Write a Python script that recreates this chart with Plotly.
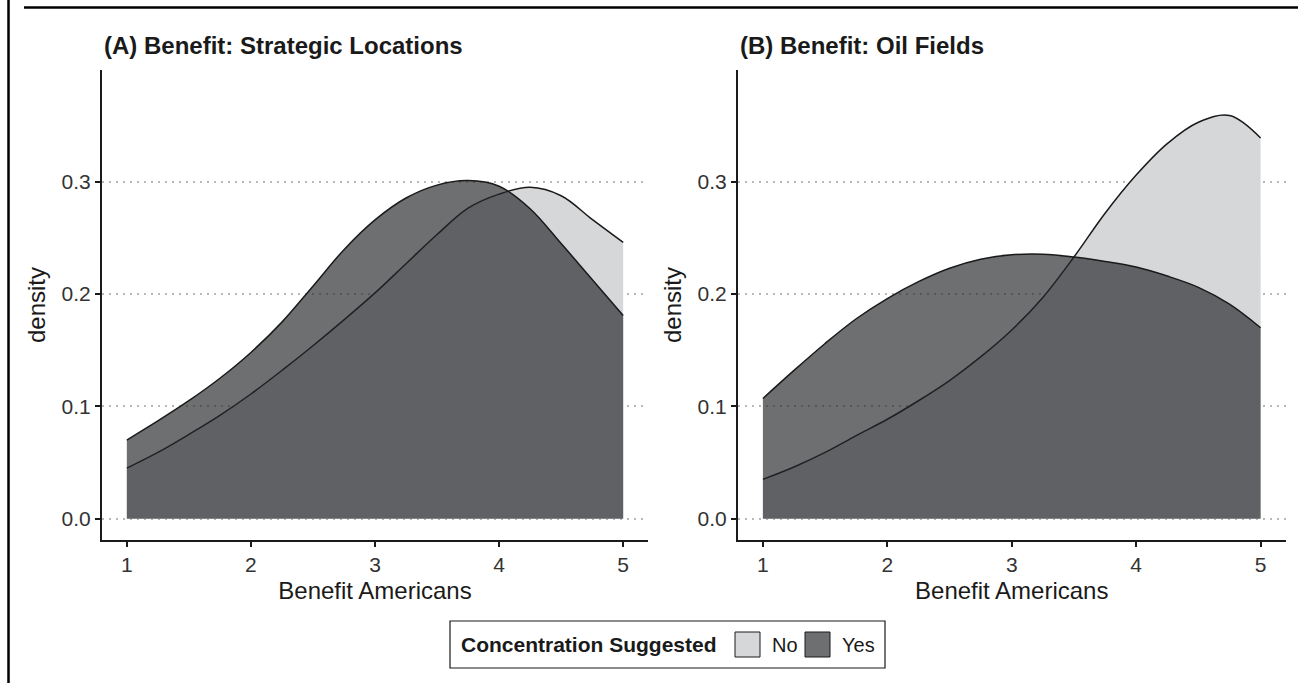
import plotly.graph_objects as go

W, H = 1298, 683

# ---- data ----
x_vals = [1.00, 1.25, 1.50, 1.75, 2.00, 2.25, 2.50, 2.75, 3.00,
          3.25, 3.50, 3.75, 4.00, 4.25, 4.50, 4.75, 5.00]

a_no = [0.045, 0.059, 0.075, 0.092, 0.111, 0.132, 0.154, 0.177, 0.201,
        0.227, 0.253, 0.2765, 0.289, 0.295, 0.2875, 0.2665, 0.246]
a_yes = [0.070, 0.087, 0.105, 0.125, 0.148, 0.175, 0.207, 0.2395, 0.266,
         0.2855, 0.297, 0.301, 0.296, 0.276, 0.245, 0.213, 0.181]

b_no = [0.035, 0.046, 0.059, 0.074, 0.0885, 0.105, 0.123, 0.144, 0.168,
        0.197, 0.233, 0.272, 0.306, 0.334, 0.353, 0.359, 0.339]
b_yes = [0.107, 0.132, 0.156, 0.178, 0.196, 0.211, 0.223, 0.231, 0.235,
         0.2355, 0.233, 0.229, 0.224, 0.216, 0.206, 0.191, 0.170]

panel_titles = ["(A) Benefit: Strategic Locations", "(B) Benefit: Oil Fields"]
x_ticks = [1, 2, 3, 4, 5]
y_ticks = [0.0, 0.1, 0.2, 0.3]
y_tick_labels = ["0.0", "0.1", "0.2", "0.3"]
legend_title = "Concentration Suggested"
legend_labels = ["No", "Yes"]

NO_FILL = "#d6d7d9"
YES_FILL = "rgba(35,37,40,0.66)"
YES_SWATCH = "#6e6f71"
FONT = "Liberation Sans, Arial, Helvetica, sans-serif"
TXT = "#1a1a1a"

fig = go.Figure()

def add_panel(xa, ya, no, yes):
    for vals, col, lab in [(no, NO_FILL, legend_labels[0]), (yes, YES_FILL, legend_labels[1])]:
        fig.add_trace(go.Scatter(x=x_vals, y=vals, xaxis=xa, yaxis=ya, mode="lines",
                                 line=dict(color="#1a1a1a", width=1.5, shape="spline", smoothing=1),
                                 fill="tozeroy", fillcolor=col, name=lab,
                                 showlegend=False, hoverinfo="skip"))

add_panel("x", "y", a_no, a_yes)
add_panel("x2", "y2", b_no, b_yes)

def px_x(p):
    return p / W

def px_y(p):
    return 1 - p / H

ydom = [px_y(540), px_y(70)]
xaxis_common = dict(range=[0.8, 5.2], tickvals=x_ticks, showgrid=False, zeroline=False,
                    showline=True, linecolor="#1a1a1a", linewidth=2,
                    ticks="outside", ticklen=5, tickwidth=1.5, tickcolor="#1a1a1a",
                    tickfont=dict(family=FONT, size=21, color="#333333"),
                    title=dict(text="Benefit Americans", font=dict(family=FONT, size=24, color=TXT), standoff=7))
yaxis_common = dict(range=[-0.019, 0.3995], tickvals=y_ticks, ticktext=y_tick_labels,
                    showgrid=True, gridcolor="#b8b8b8", griddash="2px,5px", gridwidth=1.5,
                    zeroline=False, showline=True, linecolor="#1a1a1a", linewidth=2,
                    ticks="outside", ticklen=5, tickwidth=1.5, tickcolor="#1a1a1a",
                    tickfont=dict(family=FONT, size=21, color="#333333"),
                    title=dict(text="density", font=dict(family=FONT, size=24, color=TXT), standoff=9),
                    domain=ydom)

fig.update_layout(
    width=W, height=H, margin=dict(l=0, r=0, t=0, b=0),
    paper_bgcolor="white", plot_bgcolor="white", showlegend=False,
    font=dict(family=FONT, color=TXT),
    xaxis=dict(domain=[px_x(102), px_x(648)], anchor="y", **xaxis_common),
    yaxis=dict(anchor="x", **yaxis_common),
    xaxis2=dict(domain=[px_x(738), px_x(1285.5)], anchor="y2", **xaxis_common),
    yaxis2=dict(anchor="x2", **yaxis_common),
)

# panel titles
for xp, t in zip([102, 738], panel_titles):
    fig.add_annotation(x=px_x(xp), y=px_y(46), xref="paper", yref="paper", text="<b>%s</b>" % t,
                       showarrow=False, xanchor="left", yanchor="middle",
                       font=dict(family=FONT, size=24, color=TXT))

# outer frame lines
fig.add_shape(type="line", xref="paper", yref="paper", x0=px_x(24), x1=1, y0=px_y(7.5), y1=px_y(7.5),
              line=dict(color="black", width=2.5))
fig.add_shape(type="line", xref="paper", yref="paper", x0=px_x(8.5), x1=px_x(8.5), y0=0, y1=1,
              line=dict(color="black", width=2.5))

# legend box (manual)
fig.add_shape(type="rect", xref="paper", yref="paper", x0=px_x(450), x1=px_x(885), y0=px_y(668), y1=px_y(621),
              line=dict(color="#1a1a1a", width=1.2), fillcolor="white")
fig.add_annotation(x=px_x(459), y=px_y(644.5), xref="paper", yref="paper", text="<b>%s</b>" % legend_title,
                   showarrow=False, xanchor="left", yanchor="middle", font=dict(family=FONT, size=21, color=TXT))
for (x0, x1), col, lab, tx in zip([(735, 760), (805, 830)], [NO_FILL, YES_SWATCH], legend_labels, [770, 840]):
    fig.add_shape(type="rect", xref="paper", yref="paper", x0=px_x(x0), x1=px_x(x1), y0=px_y(657), y1=px_y(632),
                  line=dict(color="#1a1a1a", width=1), fillcolor=col)
    fig.add_annotation(x=px_x(tx), y=px_y(644.5), xref="paper", yref="paper", text=lab,
                       showarrow=False, xanchor="left", yanchor="middle", font=dict(family=FONT, size=20, color=TXT))

fig.write_html("out.html")
